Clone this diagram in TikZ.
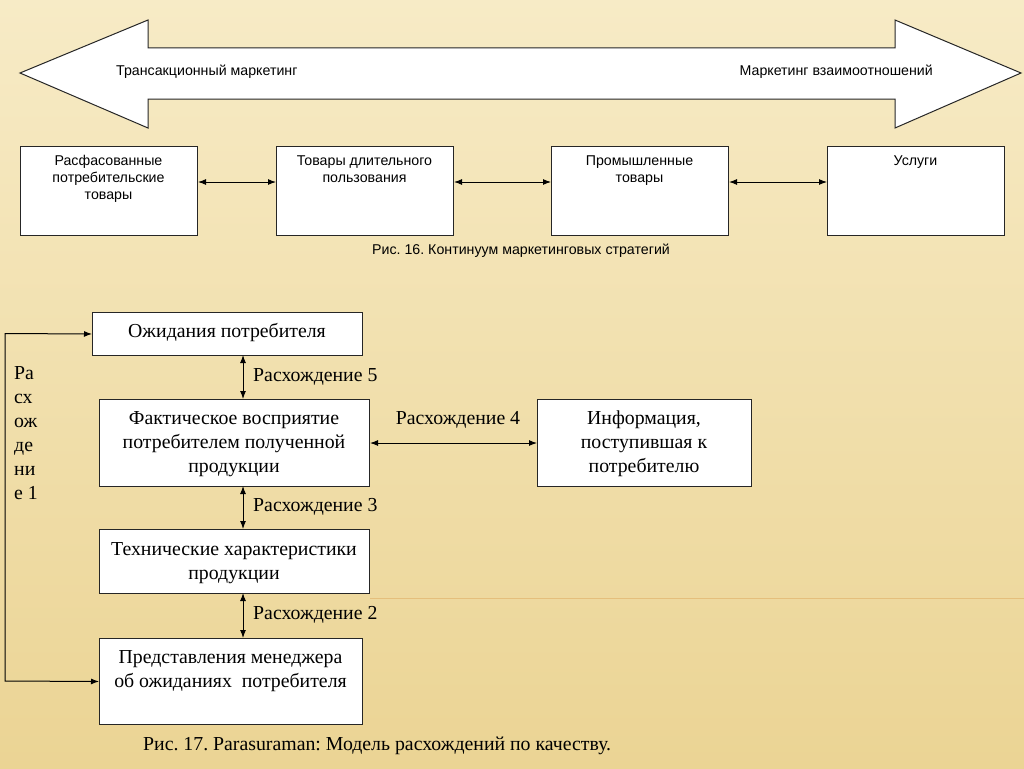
\documentclass[tikz,border=0pt]{standalone}
\usepackage{fontspec}
\setmainfont{Liberation Serif}
\newfontfamily\arialf{Liberation Sans}
\usetikzlibrary{arrows.meta}
\definecolor{bgtop}{HTML}{F7EBC6}
\definecolor{bgbot}{HTML}{EBD494}
\definecolor{faint}{HTML}{E2B46E}
\frenchspacing
\tikzset{
  bx/.style={draw=black!85, line width=1pt, fill=white, inner sep=0pt, anchor=north west},
  sanstxt/.style={font=\arialf\fontsize{14.2}{17}\selectfont, align=center, inner sep=0pt},
  sertxt/.style={font=\fontsize{19.8}{24}\selectfont, align=center, inner sep=0pt},
  conn/.style={line width=1pt, {Latex[length=8pt,width=6pt]}-{Latex[length=8pt,width=6pt]}},
}
\begin{document}
\begin{tikzpicture}[x=1pt,y=-1pt]
\useasboundingbox (0,0) rectangle (1024,768);
\shade[top color=bgtop, bottom color=bgbot] (0,0) rectangle (1024,768);
\draw[faint, line width=0.6pt, opacity=0.7] (370,598) -- (1024,598);

% big double arrow
\draw[draw=black!85, line width=1pt, fill=white]
  (20,73) -- (148,20) -- (148,48) -- (895,48) -- (895,20) -- (1021,73)
  -- (895,128) -- (895,99) -- (148,99) -- (148,128) -- cycle;
\node[sanstxt, anchor=west] (tm) at (116,72) {Трансакционный маркетинг};
\node[sanstxt, anchor=east] (mv) at (933,72) {Маркетинг взаимоотношений};

% top boxes
\node[bx, minimum width=177pt, minimum height=89pt] (t1) at (20,146) {};
\node[bx, minimum width=177pt, minimum height=89pt] (t2) at (276,146) {};
\node[bx, minimum width=177pt, minimum height=89pt] (t3) at (551,146) {};
\node[bx, minimum width=177pt, minimum height=89pt] (t4) at (827,146) {};
\node[sanstxt, anchor=north] (t1t) at (108.5,155.5) {Расфасованные\\потребительские\\товары};
\node[sanstxt, anchor=north] (t2t) at (364.5,155.5) {Товары длительного\\пользования};
\node[sanstxt, anchor=north] (t3t) at (639.5,155.5) {Промышленные\\товары};
\node[sanstxt, anchor=north] (t4t) at (915.5,155.5) {Услуги};
\draw[conn] ([yshift=-36pt]t1.north east) -- ([yshift=-36pt]t2.north west);
\draw[conn] ([yshift=-36pt]t2.north east) -- ([yshift=-36pt]t3.north west);
\draw[conn] ([yshift=-36pt]t3.north east) -- ([yshift=-36pt]t4.north west);
\node[sanstxt] (cap16) at (521,251) {Рис. 16. Континуум маркетинговых стратегий};

% lower model
\node[bx, minimum width=270pt, minimum height=43pt] (ozh) at (92,312) {};
\node[bx, minimum width=270pt, minimum height=87pt] (fakt) at (99,399) {};
\node[bx, minimum width=214pt, minimum height=87pt] (info) at (537,399) {};
\node[bx, minimum width=270pt, minimum height=64pt] (tech) at (99,529) {};
\node[bx, minimum width=263pt, minimum height=86pt] (pred) at (99,638) {};

\node[sertxt] (ozht) at (227,333) {Ожидания потребителя};
\node[sertxt] (faktt) at (234,444) {Фактическое восприятие\\потребителем полученной\\продукции};
\node[sertxt] (infot) at (644,444) {Информация,\\поступившая к\\потребителю};
\node[sertxt] (techt) at (234,563) {Технические характеристики\\продукции};
\node[sertxt] (predt) at (230.5,671) {Представления менеджера\\об ожиданиях\ \ потребителя};

\draw[conn] (243,355) -- (243,399);
\draw[conn] (243,486) -- (243,529);
\draw[conn] (243,593) -- (243,638);
\draw[conn] (fakt.east) -- (info.west);
\node[sertxt, anchor=west] (r5) at (253,377) {Расхождение 5};
\node[sertxt, anchor=west] (r3) at (253,507) {Расхождение 3};
\node[sertxt, anchor=west] (r2) at (253,615) {Расхождение 2};
\node[sertxt] (r4) at (458,420) {Расхождение 4};

\draw[conn] (ozh.west) -- (5,333.5) -- (5,681) -- (pred.west);
\node[sertxt, anchor=north west, align=left] (r1) at (14,366) {Ра\\сх\\ож\\де\\ни\\е 1};

\node[sertxt, anchor=west] (cap17) at (143,746) {Рис. 17. Parasuraman: Модель расхождений по качеству.};
\end{tikzpicture}
\end{document}
